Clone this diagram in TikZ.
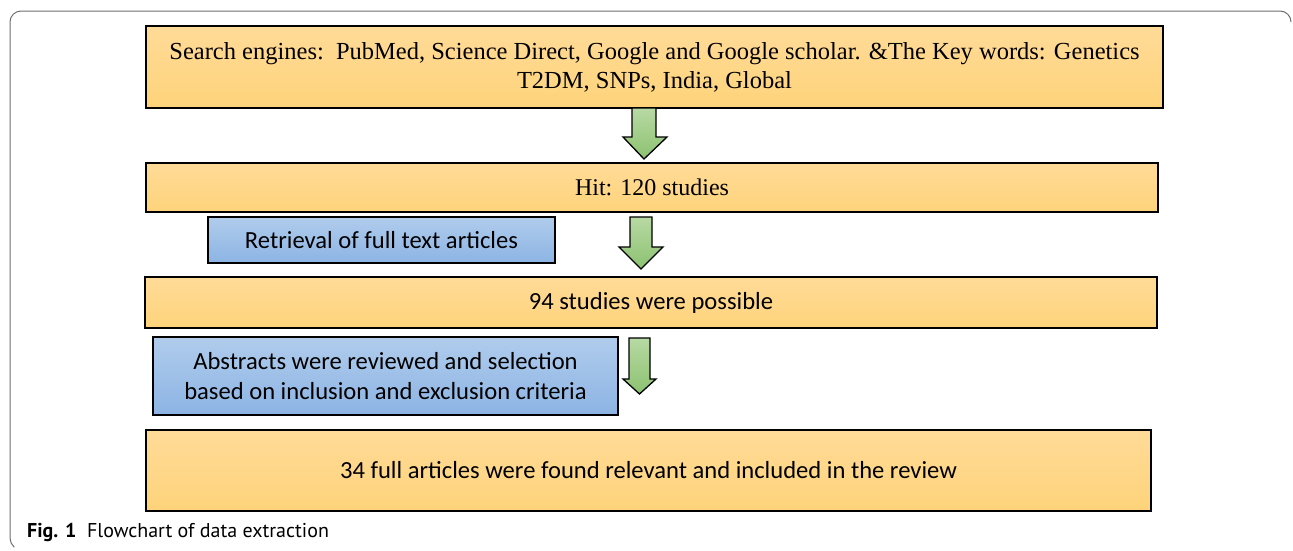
\documentclass[tikz,border=0pt]{standalone}
\usepackage{fontspec}
\setmainfont{Liberation Serif}
\newfontfamily\calfont{Carlito}
\newfontfamily\capfont{PT Sans}
\definecolor{orT}{RGB}{255,219,152}
\definecolor{orB}{RGB}{254,211,122}
\definecolor{blT}{RGB}{176,204,236}
\definecolor{blB}{RGB}{140,180,228}
\definecolor{grT}{RGB}{184,217,164}
\definecolor{grB}{RGB}{140,194,112}
\definecolor{frameC}{RGB}{110,110,110}
\tikzset{
  obox/.style={draw=black, line width=1.6pt, top color=orT, bottom color=orB, inner sep=0pt, align=center, font=\fontsize{24.5}{29}\selectfont},
  obox2/.style={obox, font=\calfont\fontsize{24.6}{30}\selectfont},
  bbox/.style={draw=black, line width=1.6pt, top color=blT, bottom color=blB, inner sep=0pt, align=center, font=\calfont\fontsize{24.6}{30}\selectfont},
  garrow/.style={draw=black, line width=1.3pt, top color=grT, bottom color=grB, line join=miter},
}
\begin{document}
\begin{tikzpicture}[x=1pt,y=-1pt]
\useasboundingbox (0,0) rectangle (1293,550);
% frame
\draw[frameC, line width=1pt] (1291,22) arc[start angle=0, end angle=-90, radius=11] -- (21,11) arc[start angle=-90, end angle=-180, radius=11] -- (10,538) arc[start angle=180, end angle=130, radius=12];
% boxes
\node[obox, minimum width=1017pt, minimum height=82pt] (b1) at (654.5,67) {Search engines:\ \ PubMed, Science Direct, Google and Google scholar. \&The Key words: Genetics\\T2DM, SNPs, India, Global};
\node[obox, font=\fontsize{24}{28}\selectfont, minimum width=1012pt, minimum height=49pt] (b2) at (652,187.5) {Hit: 120 studies};
\node[bbox, minimum width=347pt, minimum height=46pt] (r) at (381.5,240) {Retrieval of full text articles};
\node[obox2, minimum width=1012pt, minimum height=51pt] (b3) at (651,302.5) {94 studies were possible};
\node[bbox, minimum width=465pt, minimum height=78pt] (ab) at (385.5,376) {Abstracts were reviewed and selection\\based on inclusion and exclusion criteria};
\node[obox2, minimum width=1005pt, minimum height=81pt] (b4) at (648.5,470.5) {34 full articles were found relevant and included in the review};
% block arrows
\draw[garrow] (632,108) -- (656,108) -- (656,137) -- (667,137) -- (644,159) -- (623,137) -- (632,137) -- cycle;
\draw[garrow] (630,217) -- (652,217) -- (652,247) -- (663,247) -- (641,269) -- (619,247) -- (630,247) -- cycle;
\draw[garrow] (629,338) -- (650,338) -- (650,379) -- (656,379) -- (639.5,394) -- (623,379) -- (629,379) -- cycle;
% caption
\node[anchor=base west, inner sep=0pt, font=\capfont\fontsize{20}{24}\selectfont] (cap) at (27,537) {\textbf{Fig. 1}\ \ Flowchart of data extraction};
\end{tikzpicture}
\end{document}
